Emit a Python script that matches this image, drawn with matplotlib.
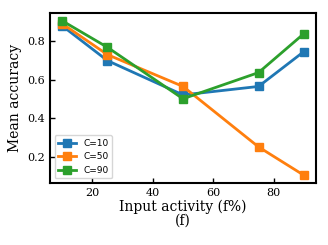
import matplotlib
matplotlib.use('Agg')
import matplotlib.pyplot as plt

activity = [10, 25, 50, 75, 90]
acc_c10 = [0.879, 0.698, 0.520, 0.564, 0.745]
acc_c50 = [0.890, 0.729, 0.564, 0.250, 0.103]
acc_c90 = [0.905, 0.767, 0.500, 0.636, 0.838]
labels = ['C=10', 'C=50', 'C=90']

plt.rcParams['font.family'] = 'DejaVu Serif'

fig = plt.figure(figsize=(3.28, 2.45), dpi=100)
ax = fig.add_axes([50/328, 1 - 183/245, 266/328, 170/245])

for vals, lab in zip([acc_c10, acc_c50, acc_c90], labels):
    ax.plot(activity, vals, marker='s', markersize=6, linewidth=2, label=lab)

ax.tick_params(direction='in', labelsize=8, width=1)
for s in ax.spines.values():
    s.set_linewidth(1.5)
ax.set_yticks([0.2, 0.4, 0.6, 0.8])
ax.set_xticks([20, 40, 60, 80])
ax.set_ylabel('Mean accuracy', fontsize=10)
ax.set_xlabel('Input activity (f%)\n(f)', fontsize=10, labelpad=1, linespacing=1.0)
leg = ax.legend(loc='lower left', prop={'family': 'DejaVu Sans', 'size': 6.5})

fig.savefig('out.png', dpi=100)
